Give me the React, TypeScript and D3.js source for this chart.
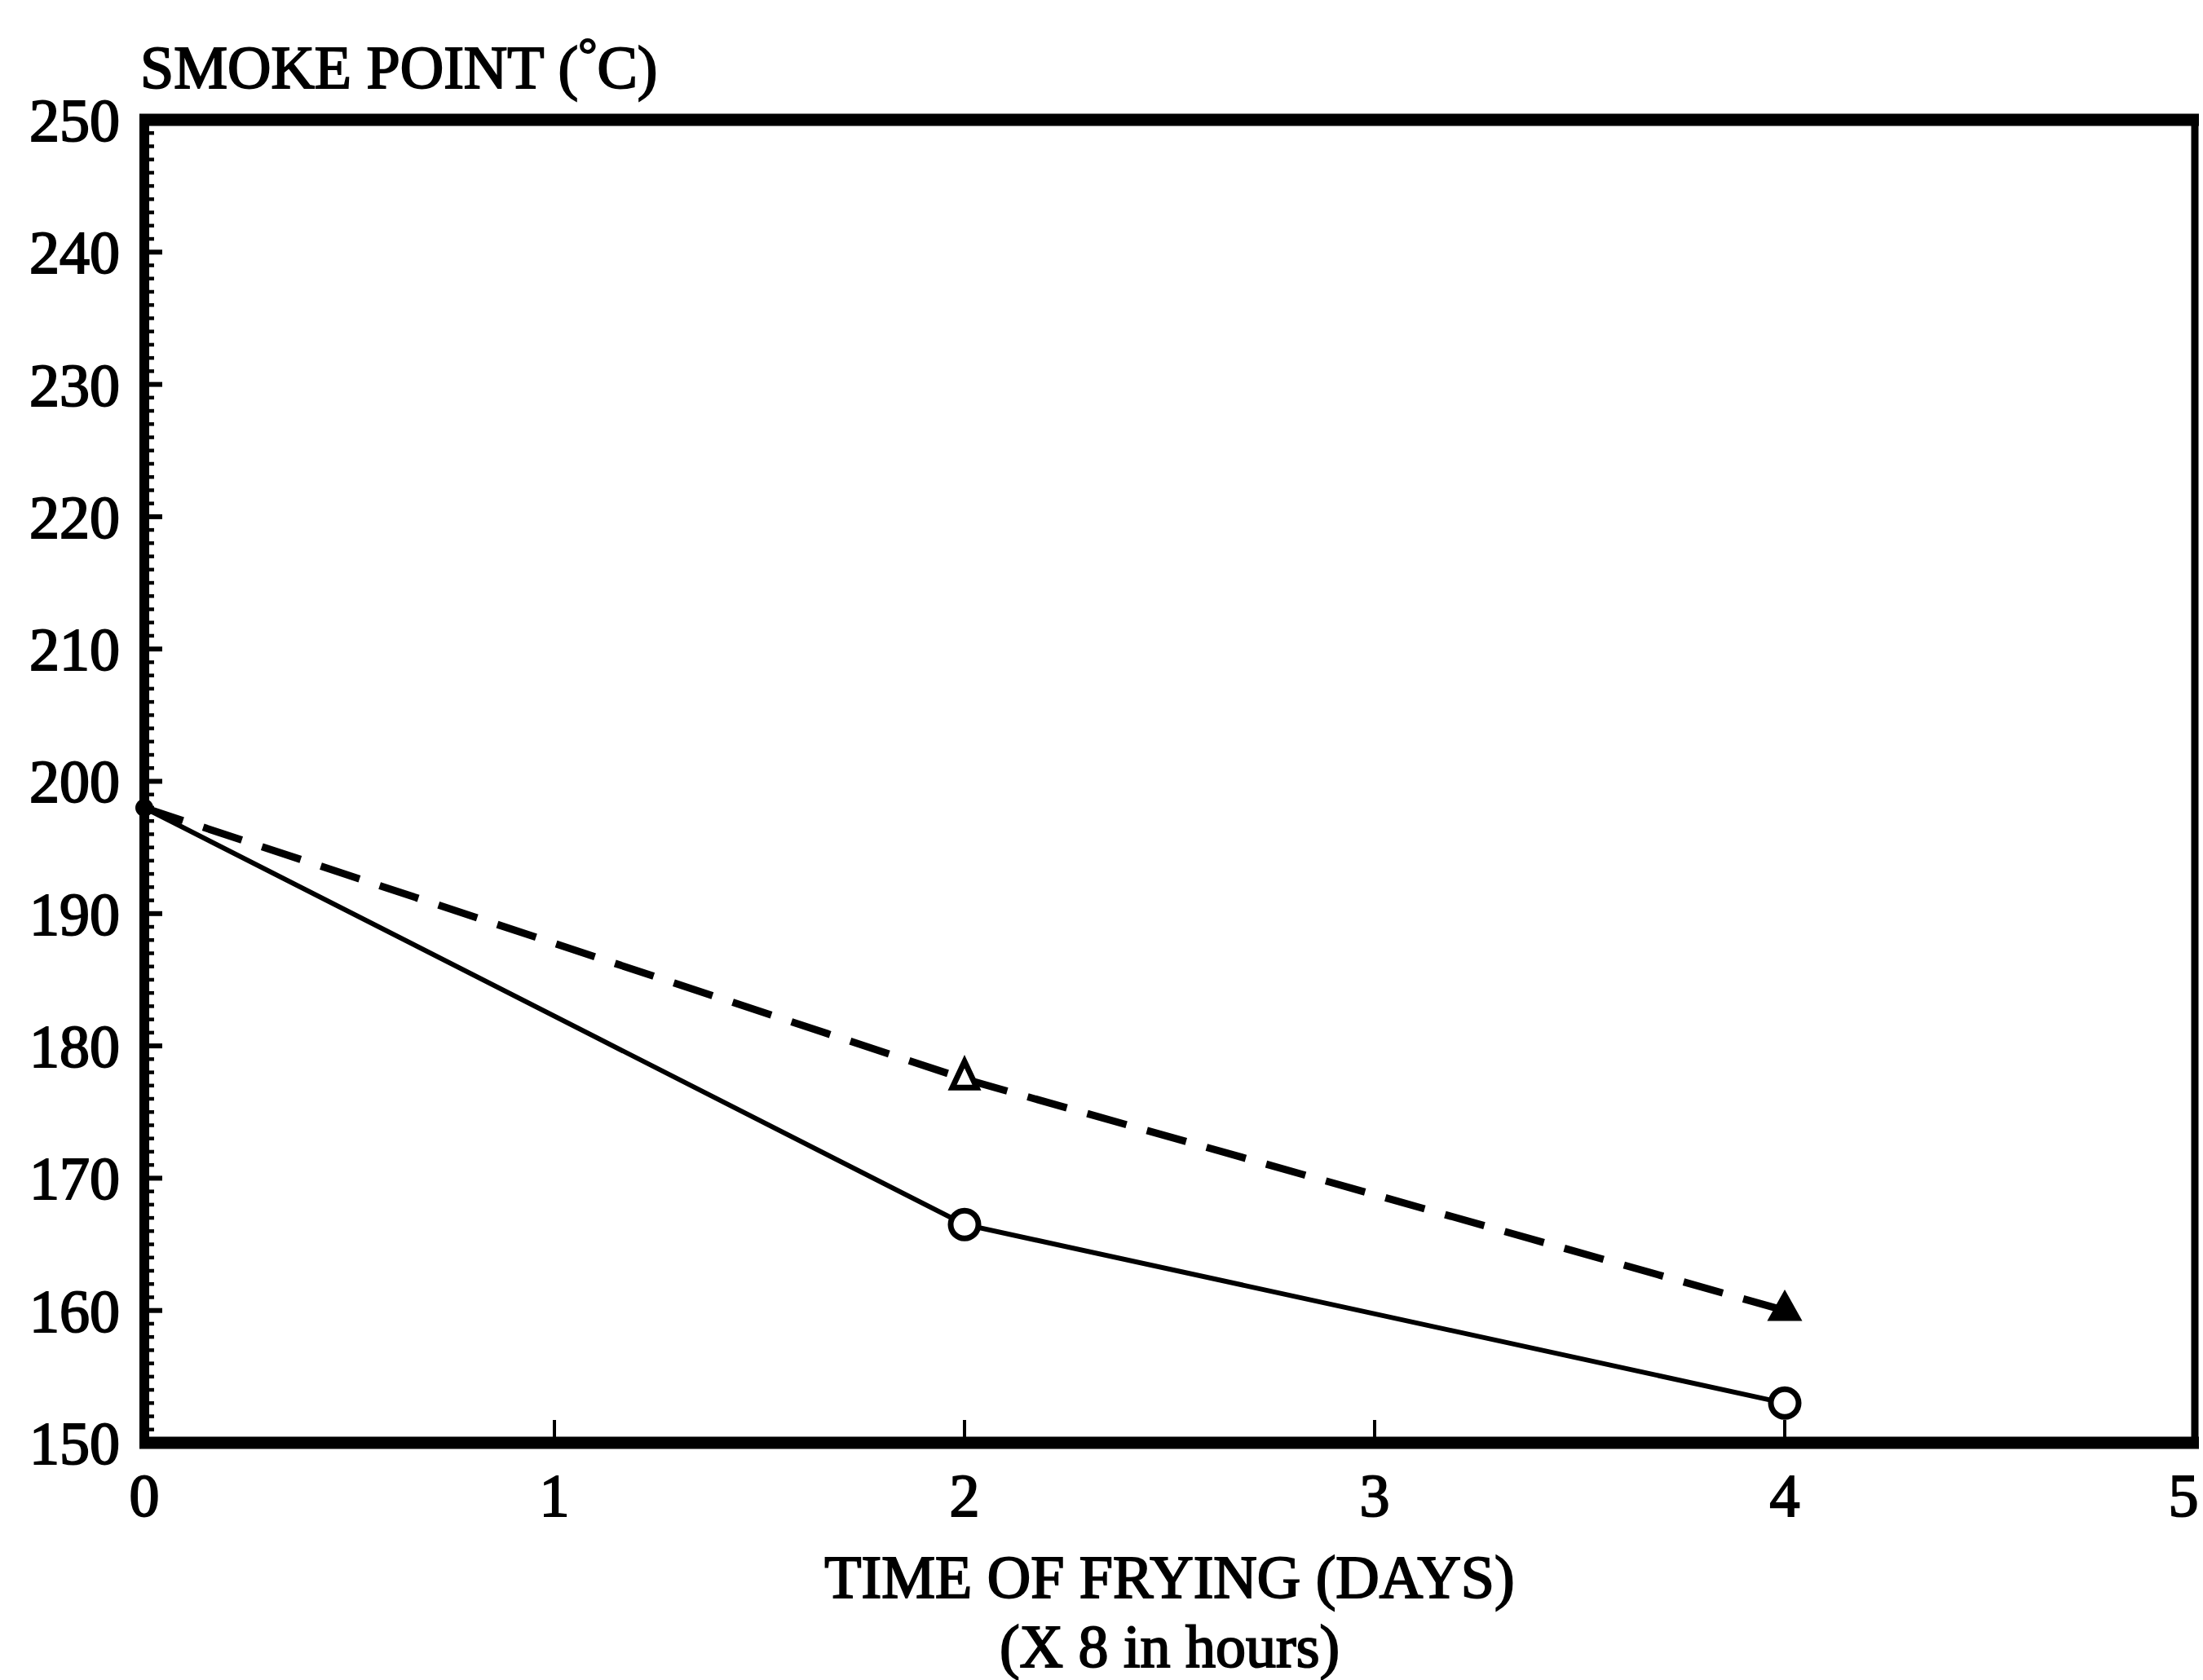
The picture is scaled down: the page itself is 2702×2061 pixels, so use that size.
import React from "react";
import * as d3 from "d3";

const xTickValues = [0, 1, 2, 3, 4, 5];
const yTickValues = [150, 160, 170, 180, 190, 200, 210, 220, 230, 240, 250];
const days = [0, 2, 4];
const solidSeries = [198, 166.5, 153];
const dashedSeries = [198, 177.5, 160];
const yLabel = "SMOKE POINT (";
const xLabel = "TIME OF FRYING (DAYS)";
const xSubLabel = "(X 8 in hours)";

const W = 2702;
const H = 2061;
const FONT = "'Liberation Serif', 'Times New Roman', serif";

export default function App() {
  const x = d3.scaleLinear().domain([0, 5]).range([177, 2692]);
  const y = d3.scaleLinear().domain([150, 250]).range([1770, 147]);
  const minorY = d3.range(150, 251, 1);

  const line = d3
    .line<number>()
    .x((_, i) => x(days[i]))
    .y((d) => y(d));

  const tri = (cx: number, cy: number, w: number, h: number) =>
    `M${cx},${cy - (h * 2) / 3} L${cx + w / 2},${cy + h / 3} L${cx - w / 2},${cy + h / 3} Z`;

  const x0 = x(0), x1 = x(5), yT = y(250), yB = y(150);
  const textStyle = { fontFamily: FONT, fill: "#000", stroke: "#000", strokeWidth: 2 } as const;

  return (
    <svg
      width={W}
      height={H}
      viewBox={`0 0 ${W} ${H}`}
      style={{ position: "absolute", left: 0, top: 0, background: "#fff" }}
    >
      <rect x={0} y={0} width={W} height={H} fill="#fff" />
      {/* minor y ticks */}
      {minorY.map((v) => (
        <line
          key={"m" + v}
          x1={x0}
          x2={x0 + (v % 10 === 0 ? 22 : 12)}
          y1={y(v)}
          y2={y(v)}
          stroke="#000"
          strokeWidth={v % 10 === 0 ? 6 : 4.5}
        />
      ))}
      {/* x ticks */}
      {xTickValues.slice(1, 5).map((v) => (
        <line key={"xt" + v} x1={x(v)} x2={x(v)} y1={yB} y2={yB - 28} stroke="#000" strokeWidth={4} />
      ))}
      {/* frame */}
      <line x1={x0 - 6} x2={x1 + 5} y1={yT} y2={yT} stroke="#000" strokeWidth={15} />
      <line x1={x0 - 6} x2={x1 + 5} y1={yB} y2={yB} stroke="#000" strokeWidth={15} />
      <line x1={x0} x2={x0} y1={yT} y2={yB} stroke="#000" strokeWidth={12} />
      <line x1={x1} x2={x1} y1={yT} y2={yB} stroke="#000" strokeWidth={9} />

      {/* y tick labels */}
      {yTickValues.map((v) => (
        <text key={"yl" + v} x={x0 - 30} y={y(v)} dy="0.35em" textAnchor="end" fontSize={74} {...textStyle}>
          {v}
        </text>
      ))}
      {/* x tick labels */}
      {xTickValues.map((v) => (
        <text
          key={"xl" + v}
          x={Math.min(x(v), W - 24)}
          y={yB + 90}
          textAnchor="middle"
          fontSize={74}
          {...textStyle}
        >
          {v}
        </text>
      ))}

      {/* y axis title */}
      <text x={172} y={108} fontSize={74} {...textStyle}>
        {yLabel}
        <tspan fontSize={58} dy={-22}>°</tspan>
        <tspan dy={22}>C)</tspan>
      </text>
      {/* x axis titles */}
      <text x={(x0 + x1) / 2} y={1960} textAnchor="middle" fontSize={74} {...textStyle}>
        {xLabel}
      </text>
      <text x={(x0 + x1) / 2} y={2045} textAnchor="middle" fontSize={74} {...textStyle}>
        {xSubLabel}
      </text>

      {/* series */}
      <path d={line(solidSeries) || ""} fill="none" stroke="#000" strokeWidth={6} />
      <path
        d={line(dashedSeries) || ""}
        fill="none"
        stroke="#000"
        strokeWidth={9}
        strokeDasharray="50 26"
      />
      {/* markers */}
      <circle cx={x(days[0])} cy={y(solidSeries[0])} r={11} fill="#000" />
      {days.slice(1).map((d, i) => (
        <circle
          key={"c" + d}
          cx={x(d)}
          cy={y(solidSeries[i + 1])}
          r={17}
          fill="#fff"
          stroke="#000"
          strokeWidth={7}
        />
      ))}
      <path d={tri(x(days[1]), y(dashedSeries[1]), 30, 32)} fill="#fff" stroke="#000" strokeWidth={7} />
      <path d={tri(x(days[2]), y(dashedSeries[2]), 38, 34)} fill="#000" stroke="#000" strokeWidth={3} />
    </svg>
  );
}
